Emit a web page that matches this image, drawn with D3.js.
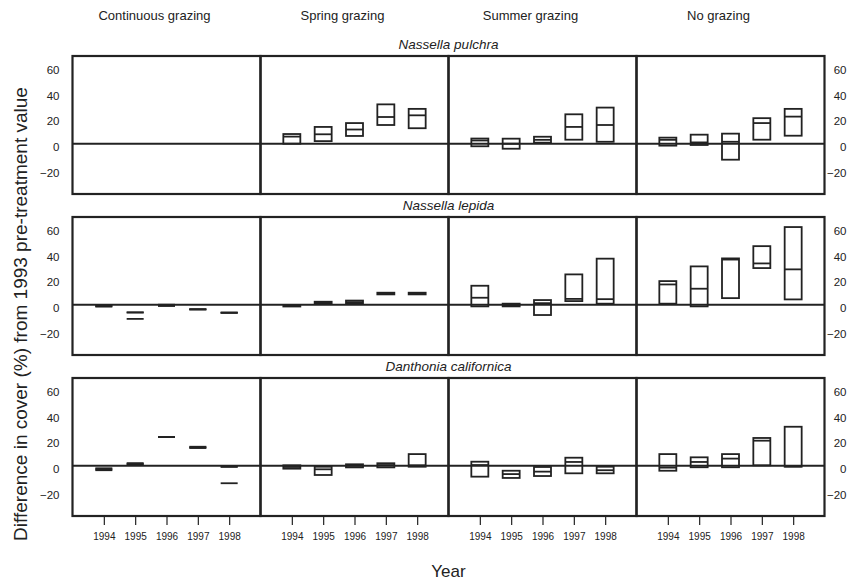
<!DOCTYPE html>
<html lang="en">
<head>
<meta charset="UTF-8">
<title>Cover change by grazing treatment</title>
<script src="https://d3js.org/d3.v7.min.js"></script>
<style>
  body { margin: 0; background: #fff; }
  text { font-family: "Liberation Sans", Arial, sans-serif; fill: #222; }
  .frame { fill: none; stroke: #222; stroke-width: 2.2; }
  .zero { stroke: #222; stroke-width: 2; }
  .box { fill: none; stroke: #222; stroke-width: 1.8; }
  .seg { stroke: #222; stroke-width: 1.8; }
</style>
</head>
<body>
<svg></svg>
<script>
const width = 858, height = 580;

const treatments = ["Continuous grazing", "Spring grazing", "Summer grazing", "No grazing"];
const species = ["Nassella pulchra", "Nassella lepida", "Danthonia californica"];
const years = ["1994", "1995", "1996", "1997", "1998"];
const yTicks = [-20, 0, 20, 40, 60];

// each entry: [low, middle, high] per year; one array per treatment
const nassellaPulchra = [
  null,
  [[0, 5.5, 7.5], [2, 7.3, 13], [6, 11, 16], [14.5, 20.7, 30.5], [12, 22, 27]],
  [[-2, 2.5, 4], [-3.9, 0, 3.9], [0.8, 3, 5.4], [3.1, 13, 22.8], [1.5, 14.5, 28]],
  [[-1.5, 3, 4.7], [-1, 1, 7], [-12.4, 1.5, 7.8], [3.1, 16, 19.8], [6.2, 21, 27]]
];
const nassellaLepida = [
  [[-1.5, -1, -0.6], [-11, -6, -6], [-1, -0.5, 0], [-3.6, -3.6, -3.6], [-6.2, -6.2, -6.2]],
  [[-1, -1, -1], [0.8, 1.5, 2.3], [1.2, 2, 3.2], [8, 8.5, 9.3], [8, 8.5, 9.3]],
  [[-1.3, 5.4, 14.7], [-1.3, -0.5, 0.8], [-8, 1.2, 3.6], [2.8, 4.5, 23.5], [0.8, 4.3, 35.7]],
  [[0.8, 15.7, 18.3], [-1.3, 12.4, 29.7], [5.1, 35, 35.9], [28.4, 32, 45.4], [4.1, 27.4, 60.2]]
];
const danthoniaCalifornica = [
  [[-3.5, -2.8, -2], [0.8, 1.3, 2], [22.2, 22.2, 22.2], [13.7, 14.2, 14.7], [-13.6, -0.8, -0.8]],
  [[-2.3, -1, 0.3], [-7.2, -2.8, -0.8], [-1.3, 0, 1.1], [-1.3, 0.5, 1.9], [-0.8, 0.3, 9]],
  [[-8.5, 0.5, 3.1], [-9.5, -6.5, -3.9], [-8, -4.6, -1], [-5.9, 2.9, 6.2], [-5.9, -3.5, -0.8]],
  [[-3.9, -1.5, 9], [-1.2, 2.9, 6.5], [-1.2, 5.5, 9], [0.3, 19.4, 21.5], [-0.8, -0.5, 30.2]]
];
const panels = [nassellaPulchra, nassellaLepida, danthoniaCalifornica];

const svg = d3.select("svg")
  .attr("width", width)
  .attr("height", height)
  .attr("viewBox", [0, 0, width, height]);

const left = 72.5, colW = 188;
const rowTop = [56, 217, 378], rowH = 138;
const boxW = 17;

const x_scale = d3.scalePoint().domain(years).range([0, colW]).padding(1);
const y_scale = d3.scaleLinear().domain([-39, 68]).range([rowH, 0]);

// column headers
svg.selectAll(".colhead")
  .data(treatments)
  .join("text")
  .attr("x", (d, i) => left + i * colW + colW / 2 - 12)
  .attr("y", 20)
  .attr("text-anchor", "middle")
  .style("font-size", "13px")
  .text(d => d);

species.forEach((sp, r) => {
  const top = rowTop[r];

  svg.append("text")
    .attr("x", left + 2 * colW)
    .attr("y", top - 7)
    .attr("text-anchor", "middle")
    .style("font-size", "13.5px")
    .style("font-style", "italic")
    .text(sp);

  treatments.forEach((t, c) => {
    const g = svg.append("g")
      .attr("transform", `translate(${left + c * colW},${top})`);

    const vals = panels[r][c] || [];
    const data = vals.map((v, i) => ({ year: years[i], low: v[0], mid: v[1], high: v[2] }));

    if (c === 0) {
      // continuous grazing: horizontal marks only
      const segs = data.flatMap(d => [d.low, d.mid, d.high].map(v => ({ year: d.year, v })));
      g.selectAll(".seg")
        .data(segs)
        .join("line")
        .attr("class", "seg")
        .attr("x1", d => x_scale(d.year) - boxW / 2)
        .attr("x2", d => x_scale(d.year) + boxW / 2)
        .attr("y1", d => y_scale(d.v))
        .attr("y2", d => y_scale(d.v));
    } else {
      g.selectAll(".box")
        .data(data)
        .join("rect")
        .attr("class", "box")
        .attr("x", d => x_scale(d.year) - boxW / 2)
        .attr("y", d => y_scale(d.high))
        .attr("width", boxW)
        .attr("height", d => Math.max(0.5, y_scale(d.low) - y_scale(d.high)));

      g.selectAll(".mid")
        .data(data)
        .join("line")
        .attr("class", "seg")
        .attr("x1", d => x_scale(d.year) - boxW / 2)
        .attr("x2", d => x_scale(d.year) + boxW / 2)
        .attr("y1", d => y_scale(d.mid))
        .attr("y2", d => y_scale(d.mid));
    }

    g.append("line")
      .attr("class", "zero")
      .attr("x1", 0).attr("x2", colW)
      .attr("y1", y_scale(0)).attr("y2", y_scale(0));

    g.append("rect")
      .attr("class", "frame")
      .attr("width", colW)
      .attr("height", rowH);

    if (r === species.length - 1) {
      const ax = g.append("g")
        .attr("transform", `translate(0,${rowH + 1})`)
        .call(d3.axisBottom(x_scale).tickSize(8).tickPadding(8));
      ax.select(".domain").remove();
      ax.selectAll("line").attr("stroke", "#222").attr("stroke-width", 1.2);
      ax.selectAll("text").style("font-size", "10px").attr("fill", "#222");
    }
  });

  const yl = svg.append("g")
    .attr("transform", `translate(${left},${top})`)
    .call(d3.axisLeft(y_scale).tickValues(yTicks).tickSize(0).tickPadding(13));
  yl.select(".domain").remove();
  yl.selectAll("text").style("font-size", "11.5px").attr("fill", "#222").attr("dy", "0.6em");

  const yr = svg.append("g")
    .attr("transform", `translate(${left + 4 * colW},${top})`)
    .call(d3.axisRight(y_scale).tickValues(yTicks).tickSize(0).tickPadding(22));
  yr.select(".domain").remove();
  yr.selectAll("text").style("font-size", "11.5px").attr("fill", "#222")
    .attr("text-anchor", "end").attr("dy", "0.6em");
});

svg.append("text")
  .attr("transform", `translate(27,314) rotate(-90)`)
  .attr("text-anchor", "middle")
  .style("font-size", "19px")
  .text("Difference in cover (%) from 1993 pre-treatment value");

svg.append("text")
  .attr("x", left + 2 * colW)
  .attr("y", 577)
  .attr("text-anchor", "middle")
  .style("font-size", "17px")
  .text("Year");
</script>
</body>
</html>
